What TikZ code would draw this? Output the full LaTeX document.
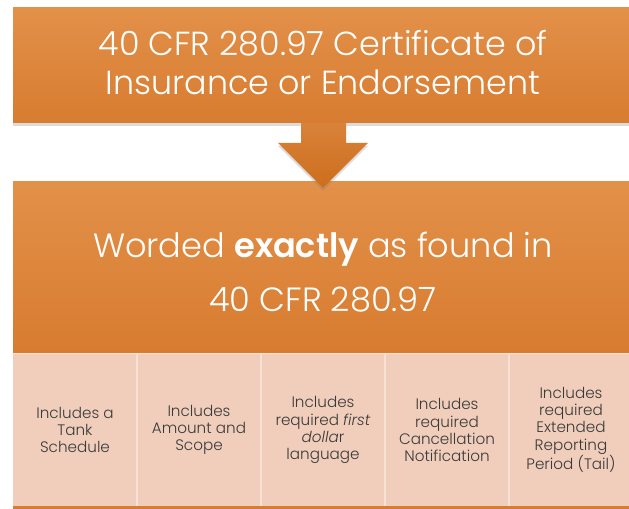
\documentclass[tikz,border=0pt]{standalone}
\usepackage{fontspec}
\setmainfont{Poppins}[UprightFont=* Light, ItalicFont=* Light Italic, BoldFont=* SemiBold]
\usetikzlibrary{shadows}

\definecolor{boxTop}{HTML}{E39049}
\definecolor{boxBottom}{HTML}{D77C30}
\definecolor{arrowTop}{HTML}{D9823A}
\definecolor{arrowBottom}{HTML}{CC6E1C}
\definecolor{cellFill}{HTML}{F0CEBB}
\definecolor{cellRule}{HTML}{F7E0D4}
\definecolor{cellText}{HTML}{3A3A3A}

\tikzset{
	bandshade/.style={top color=boxTop, bottom color=boxBottom},
	bandshadow/.style={drop shadow={opacity=0.28, shadow xshift=0pt, shadow yshift=-2.2pt}},
	celltext/.style={inner sep=0.75pt, align=center, text=cellText, font=\fontsize{11.4}{12.8}\selectfont}
}

\begin{document}
\begin{tikzpicture}[x=0.75pt,y=0.75pt,yscale=-1,xscale=1]
		\useasboundingbox (0,0) rectangle (629,509);
		
		%Shape: Rectangle [id:topBand] 
		\shade [bandshade, bandshadow]  (13,8) rectangle (633,123) ;
		%Shape: Rectangle [id:wordBand] 
		\shade [bandshade]  (13,182) rectangle (633,353) ;
		%Shape: Down Arrow [id:downArrow] 
		\shade [top color=arrowTop, bottom color=arrowBottom, bandshadow]  (301,123) -- (346,123) -- (346,143) -- (368,143) -- (323,188) -- (278,143) -- (301,143) -- cycle ;
		%Shape: Rectangle [id:cellRow] 
		\fill [cellFill]  (13,353) rectangle (633,506.5) ;
		%Straight Lines [id:cellTopRule] 
		\draw [cellRule, line width=0.8pt]  (13,353.5) -- (633,353.5) ;
		%Straight Lines [id:cellBottomRule] 
		\fill [boxBottom]  (13,506.5) rectangle (633,509) ;
		%Straight Lines [id:cellDividers] 
		\foreach \xDiv in {137,261,385,509} {
			\draw [cellRule, line width=1.1pt]  (\xDiv,354) -- (\xDiv,506.5) ;
		}
		
		% Text Node
		\draw (323,63) node [inner sep=0.75pt, align=center, text=white, font=\fontsize{25}{29.3}\selectfont] (titleText)   {40 CFR 280.97 Certificate of\\Insurance or Endorsement};
		% Text Node
		\draw (323,272) node [inner sep=0.75pt, align=center, text=white, font=\fontsize{25.2}{40.5}\selectfont] (wordText)   {Worded \textbf{exactly} as found in\\40 CFR 280.97};
		% Text Node
		\draw (75,430) node [celltext] (tankCell)   {Includes a\\Tank\\Schedule};
		% Text Node
		\draw (199,430) node [celltext] (scopeCell)   {Includes\\Amount and\\Scope};
		% Text Node
		\draw (323,430) node [celltext] (dollarCell)   {Includes\\required \textit{first}\\\textit{dolla}r\\language};
		% Text Node
		\draw (447,430) node [celltext] (cancelCell)   {Includes\\required\\Cancellation\\Notification};
		% Text Node
		\draw (571,430) node [celltext] (tailCell)   {Includes\\required\\Extended\\Reporting\\Period (Tail)};
		
		
		\end{tikzpicture}
\end{document}
